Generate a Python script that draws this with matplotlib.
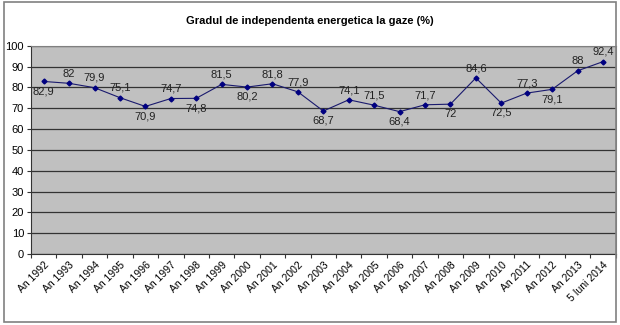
import matplotlib
matplotlib.use('Agg')
import matplotlib.pyplot as plt
from matplotlib.patches import Rectangle

# Series: degree of gas energy independence per year
years = ["An 1992", "An 1993", "An 1994", "An 1995", "An 1996", "An 1997",
         "An 1998", "An 1999", "An 2000", "An 2001", "An 2002", "An 2003",
         "An 2004", "An 2005", "An 2006", "An 2007", "An 2008", "An 2009",
         "An 2010", "An 2011", "An 2012", "An 2013", "5 Iuni 2014"]
values = [82.9, 82, 79.9, 75.1, 70.9, 74.7, 74.8, 81.5, 80.2, 81.8, 77.9, 68.7,
          74.1, 71.5, 68.4, 71.7, 72, 84.6, 72.5, 77.3, 79.1, 88, 92.4]
# 1 = label above the point, -1 = below
label_side = [-1, 1, 1, 1, -1, 1, -1, 1, -1, 1, 1, -1,
              1, 1, -1, 1, -1, 1, -1, 1, -1, 1, 1]

plt.rcParams['font.family'] = ['Liberation Sans', 'DejaVu Sans']

fig = plt.figure(figsize=(6.2, 3.25), dpi=100)
fig.patches.append(Rectangle((0.006, 0.008), 0.988, 0.985, transform=fig.transFigure,
                             fill=False, edgecolor='#808080', linewidth=1.2))
ax = fig.add_axes([0.050, 0.218, 0.943, 0.641])
ax.set_facecolor('#c0c0c0')

n = len(values)
xs = list(range(n))
ax.plot(xs, values, color='#1a1a6e', linewidth=0.8, marker='D', markersize=2.5,
        markerfacecolor='#000080', markeredgecolor='#000080', zorder=3)

for x, v, s in zip(xs, values, label_side):
    txt = f"{v:g}".replace('.', ',')
    ax.annotate(txt, (x, v), xytext=(0, 7 * s), textcoords='offset points',
                ha='center', va='center', fontsize=8, color='#222222')

ax.set_xlim(-0.5, n - 0.5)
ax.set_ylim(0, 100)
ax.set_yticks(range(0, 101, 10))
ax.yaxis.grid(True, color='#333333', linewidth=0.9)
ax.set_axisbelow(True)
ax.set_xticks([i - 0.5 for i in range(n + 1)], minor=False)
ax.set_xticklabels([])
ax.set_xticks(xs, minor=True)
ax.set_xticklabels(years, minor=True, rotation=45, ha='right', rotation_mode='anchor',
                   fontsize=7.5)
ax.tick_params(axis='x', which='minor', length=0, pad=4)
ax.tick_params(axis='x', which='major', length=3, color='#333333')
ax.tick_params(axis='y', length=3, labelsize=8, pad=2, color='#333333')
for side in ['top', 'right']:
    ax.spines[side].set_color('#808080')
for side in ['left', 'bottom']:
    ax.spines[side].set_color('#333333')

fig.text(0.5, 0.935, "Gradul de independenta energetica la gaze (%)", ha='center',
         va='center', fontsize=8, fontweight='bold')

plt.savefig('out.png', dpi=100)
